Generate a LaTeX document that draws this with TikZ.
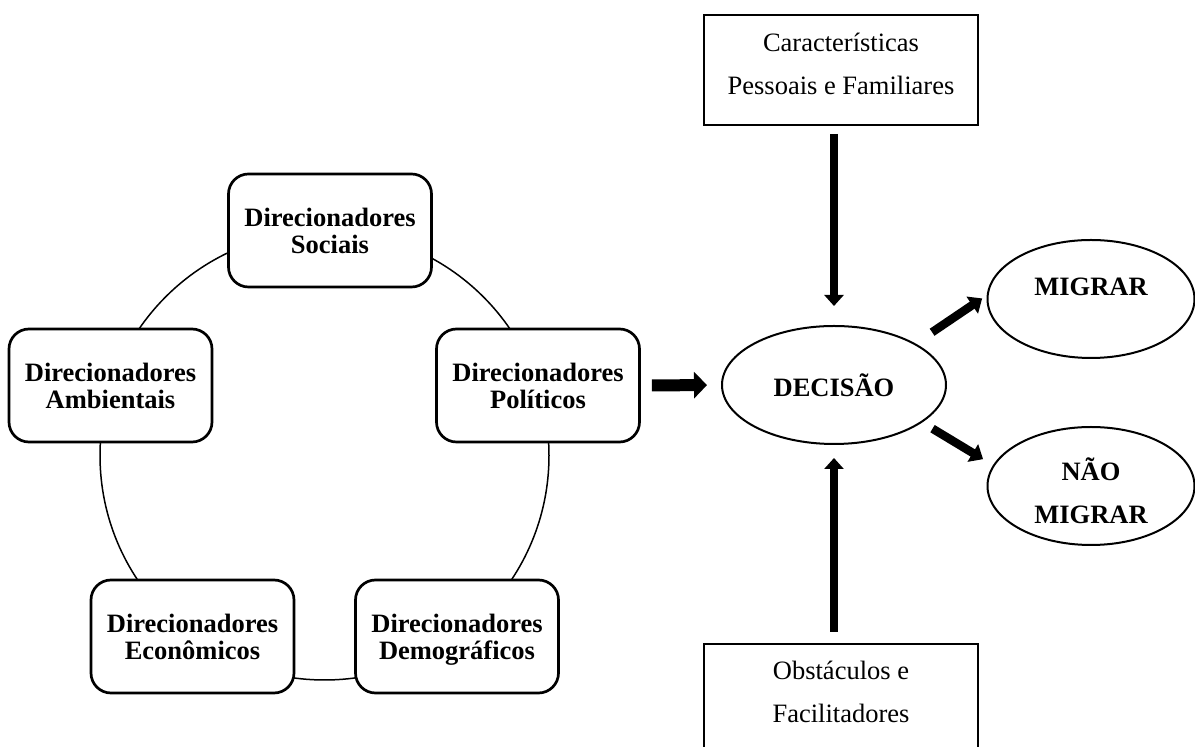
\documentclass[tikz,border=0pt]{standalone}
\usepackage{fontspec}
\setmainfont{Liberation Serif}
\usetikzlibrary{arrows.meta,shapes.geometric}
\tikzset{driver/.style={draw,line width=1.35pt,rounded corners=10pt,fill=white,
           minimum width=101.5pt,minimum height=56.5pt,align=center,
           font=\bfseries\fontsize{13.25}{13.5}\selectfont},
         factorbox/.style={draw,line width=1pt,minimum width=137pt,minimum height=55pt},
         factortext/.style={align=center,font=\fontsize{13.25}{21.5}\selectfont},
         oval/.style={ellipse,draw,line width=1pt,minimum width=103.5pt,minimum height=59pt},
         ovaltext/.style={align=center,font=\bfseries\fontsize{13.25}{21.5}\selectfont},
         bigarrow/.style={line width=4pt,-{Triangle[width=9.5pt,length=5.5pt]}},
         widearrow/.style={line width=6pt,-{Triangle[width=13pt,length=6.5pt]}},
         slantarrow/.style={line width=4.25pt,-{Triangle[width=10pt,length=6pt]}}}

\begin{document}
\begin{tikzpicture}[x=0.5pt,y=-0.5pt]
  \useasboundingbox (0,0) rectangle (1195,747);
  \clip (0,0) rectangle (1195,747);
  % drivers sit on one circle
  \draw[line width=0.75pt] (324.5,455.5) circle[radius=224.5];
  \node[driver] (sociais) at (330,230.5) {Direcionadores\\Sociais};
  \node[driver] (ambientais) at (110.5,385.5) {Direcionadores\\Ambientais};
  \node[driver] (politicos) at (538,385.5) {Direcionadores\\Políticos};
  \node[driver] (economicos) at (192.5,636.5) {Direcionadores\\Econômicos};
  \node[driver] (demograficos) at (457,636.5) {Direcionadores\\Demo\smash{g}ráficos};

  \node[oval,minimum width=112pt,ovaltext] (decisao) at (834,385) {DECISÃO};
  \node[oval] (migrar) at (1091,299) {};
  \node[ovaltext] (migrartxt) at ([yshift=6pt]migrar.center) {MIGRAR};
  \node[oval] (naomigrar) at (1091,486) {};
  \node[ovaltext] (naomigrartxt) at ([yshift=-2.5pt]naomigrar.center) {NÃO\\MIGRAR};

  \node[factorbox] (caract) at (841,70) {};
  \node[factortext] (caracttxt) at ([yshift=3pt]caract.center) {Características\\Pessoais e Familiares};
  \node[factorbox,minimum height=54pt] (obst) at (841,698) {};
  \node[factortext] (obsttxt) at ([yshift=3.25pt]obst.center) {Obstáculos e\\Facilitadores};

  \draw[widearrow,shorten <=5.5pt,shorten >=7pt] (politicos.east) -- (decisao.west);
  \draw[bigarrow,shorten <=4pt,shorten >=9.5pt] (decisao.north |- caract.south) -- (decisao.north);
  \draw[bigarrow,shorten <=5.5pt,shorten >=6.5pt] (decisao.south |- obst.north) -- (decisao.south);
  \draw[slantarrow,shorten <=10pt,shorten >=2.75pt] (decisao.27) -- (migrar.178);
  \draw[slantarrow,shorten <=6pt,shorten >=5.8pt] (decisao.-23) -- (naomigrar.168);
\end{tikzpicture}
\end{document}
